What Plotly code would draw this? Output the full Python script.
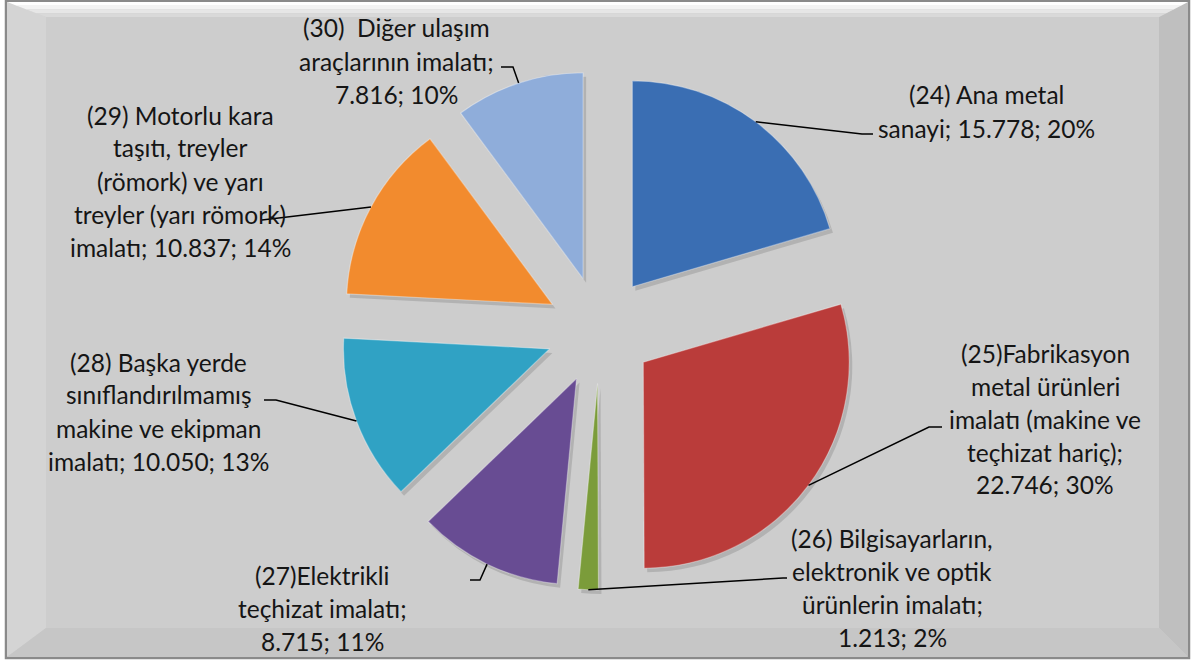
import math
import plotly.graph_objects as go

W, H = 1192, 661

# ---------------- data ----------------
categories = [
    "(24) Ana metal<br>sanayi",
    "(25)Fabrikasyon<br>metal ürünleri<br>imalatı (makine ve<br>teçhizat hariç)",
    "(26) Bilgisayarların,<br>elektronik ve optik<br>ürünlerin imalatı",
    "(27)Elektrikli<br>teçhizat imalatı",
    "(28) Başka yerde<br>sınıflandırılmamış<br>makine ve ekipman<br>imalatı",
    "(29) Motorlu kara<br>taşıtı, treyler<br>(römork) ve yarı<br>treyler (yarı römork)<br>imalatı",
    "(30)  Diğer ulaşım<br>araçlarının imalatı",
]
values = [15778, 22746, 1213, 8715, 10050, 10837, 7816]
percent_labels = [20, 30, 2, 11, 13, 14, 10]

# ---------------- styles / layout ----------------
colors = ["#3A6EB3", "#BA3C3A", "#7B9C3A", "#684C93", "#30A2C4", "#F28B2E", "#8FADDA"]
value_sep = ["; ", ";<br>", ";<br>", ";<br>", "; ", "; ", ";<br>"]
# label block: centre x, first line y (pixels)
label_pos = [(986, 95), (1045, 353), (892, 538), (322, 575), (159, 362), (180, 115), (396, 28)]
# leader line: elbow point, end point (pixels)
leader = [
    ((862, 134), (873, 134)),
    ((929, 427), (942, 427)),
    ((783, 578), (787, 578)),
    ((480, 580), (470, 580)),
    ((276, 400), (264, 400)),
    ((262, 220), (262, 220)),
    ((513, 67), (501, 67)),
]
LINE_H = 33
FONT = "Lato, Calibri, Carlito, sans-serif"
FSIZE = 24.5

# pie geometry (pixels)
CX, CY, R, PULL = 600, 330, 206, 0.262
half = R * (1 + PULL)


def dom(cx, cy):
    return dict(x=[(cx - half) / W, (cx + half) / W],
                y=[1 - (cy + half) / H, 1 - (cy - half) / H])


def px(x, y):
    return x / W, 1 - y / H


def fmt(v):
    return f"{v:,}".replace(",", ".")


fig = go.Figure()
# soft drop shadow of the slices
fig.add_trace(go.Pie(
    values=values, sort=False, direction="clockwise", rotation=0,
    pull=[PULL] * len(values),
    marker=dict(colors=["rgba(0,0,0,0.13)"] * len(values), line=dict(width=0)),
    textinfo="none", domain=dom(CX + 3, CY + 4), showlegend=False, hoverinfo="skip",
))
fig.add_trace(go.Pie(
    values=values,
    labels=[c.replace("<br>", " ") for c in categories],
    sort=False,
    direction="clockwise",
    rotation=0,
    pull=[PULL] * len(values),
    marker=dict(colors=colors, line=dict(width=1.2, color="rgba(255,255,255,0.35)")),
    textinfo="none",
    domain=dom(CX, CY),
    showlegend=False,
    hoverinfo="label+value+percent",
))

shapes = []
# frame and bevel background
x0, y0, x1, y1 = 6, 1, 1189, 658
bl, bt, br, bb = 40, 16, 30, 30


def poly(pts, fill):
    path = "M " + " L ".join(f"{px(a, b)[0]:.5f},{px(a, b)[1]:.5f}" for a, b in pts) + " Z"
    return dict(type="path", path=path, xref="paper", yref="paper",
                fillcolor=fill, line=dict(width=0), layer="below")


shapes.append(dict(type="rect", xref="paper", yref="paper",
                   x0=px(x0, y0)[0], y0=px(x0, y0)[1], x1=px(x1, y1)[0], y1=px(x1, y1)[1],
                   fillcolor="#CDCDCD", line=dict(color="#8A8A8A", width=2.5), layer="below"))
# left bevel
shapes.append(poly([(x0 + 1, y0 + 1), (x0 + bl, y0 + bt), (x0 + bl, y1 - bb), (x0 + 1, y1 - 1)], "#D4D4D4"))
# right bevel
shapes.append(poly([(x1 - 1, y0 + 1), (x1 - br, y0 + bt), (x1 - br, y1 - bb), (x1 - 1, y1 - 1)], "#BFBFBF"))
# bottom bevel
shapes.append(poly([(x0 + 1, y1 - 1), (x0 + bl, y1 - bb), (x1 - br, y1 - bb), (x1 - 1, y1 - 1)], "#C6C6C6"))
# top bevel (graded)
top_cols = ["#FFFFFF", "#F3F3F3", "#E6E6E6", "#D9D9D9"]
n = len(top_cols)
for i, col in enumerate(top_cols):
    f0, f1 = i / n, (i + 1) / n
    pts = [
        (x0 + 1 + (bl - 1) * f0, y0 + 1 + (bt - 1) * f0),
        (x1 - 1 - (br - 1) * f0, y0 + 1 + (bt - 1) * f0),
        (x1 - 1 - (br - 1) * f1, y0 + 1 + (bt - 1) * f1),
        (x0 + 1 + (bl - 1) * f1, y0 + 1 + (bt - 1) * f1),
    ]
    shapes.append(poly(pts, col))

# leader lines from slice mid-angle on the arc, plus labels
total = sum(values)
cum = 0
annotations = []
for i, v in enumerate(values):
    mid = (cum + v / 2) / total * 2 * math.pi
    cum += v
    ax = CX + R * (1 + PULL) * math.sin(mid)
    ay = CY - R * (1 + PULL) * math.cos(mid)
    (ex, ey), (tx, ty) = leader[i]
    pts = [(ax, ay), (ex, ey), (tx, ty)]
    path = "M " + " L ".join(f"{px(a, b)[0]:.5f},{px(a, b)[1]:.5f}" for a, b in pts)
    shapes.append(dict(type="path", path=path, xref="paper", yref="paper",
                       line=dict(color="black", width=1.5), layer="above"))

    text = categories[i] + value_sep[i] + fmt(v) + "; " + f"{percent_labels[i]}%"
    lx, ly = label_pos[i]
    for k, line in enumerate(text.split("<br>")):
        xx, yy = px(lx, ly + k * LINE_H)
        annotations.append(dict(x=xx, y=yy, xref="paper", yref="paper", text=line,
                                showarrow=False, xanchor="center", yanchor="middle",
                                font=dict(family=FONT, size=FSIZE, color="#151515")))

fig.update_layout(
    width=W, height=H,
    margin=dict(l=0, r=0, t=0, b=0),
    paper_bgcolor="white",
    plot_bgcolor="white",
    shapes=shapes,
    annotations=annotations,
)

fig.write_html("out.html",
               config={"displayModeBar": False},
               post_script="document.body.style.margin='0px';document.body.style.overflow='hidden';")
